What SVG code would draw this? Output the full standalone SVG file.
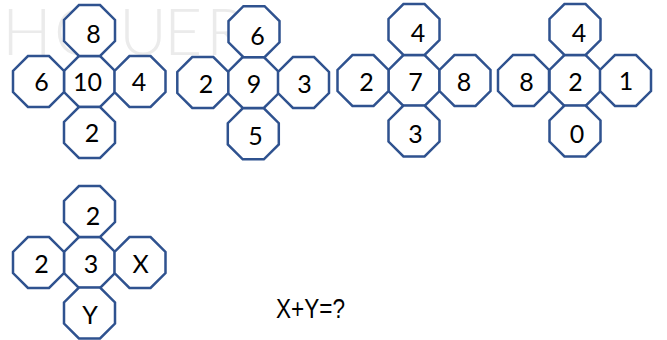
<svg xmlns="http://www.w3.org/2000/svg" xmlns:xlink="http://www.w3.org/1999/xlink" width="667" height="340" viewBox="0 0 667 340">
<style>
.oct{fill:#ffffff;stroke:#2F528F;stroke-width:2.5;stroke-linejoin:miter}
.num{font-family:Lato,"Open Sans","Liberation Sans",sans-serif;font-size:25px;fill:#000000;text-anchor:middle}
.wm{font-family:Lato,"Liberation Sans",sans-serif;font-weight:300;font-size:66px;fill:#ebebeb}
.eq{font-family:"Liberation Sans Narrow","Liberation Sans",Arial,sans-serif;font-size:28px;fill:#000000}
</style>
<defs>
<polygon id="oct" class="oct" points="-10.56,-25.5 10.56,-25.5 25.5,-10.56 25.5,10.56 10.56,25.5 -10.56,25.5 -25.5,10.56 -25.5,-10.56"/>
</defs>
<rect width="667" height="340" fill="#ffffff"/>
<g id="watermark">
<text class="wm" x="2" y="55">H</text>
<text class="wm" x="54" y="55">O</text>
<text class="wm" x="119" y="55">U</text>
<text class="wm" x="164" y="55">E</text>
<text class="wm" x="206" y="55">R</text>
</g>
<g id="connectors"></g>
<g id="g1">
<g id="g1-c"><use xlink:href="#oct" x="89.5" y="81.5"/><text class="num" x="87.5" y="91">10</text></g>
<g id="g1-t"><use xlink:href="#oct" x="89.5" y="30.5"/><text class="num" x="93.5" y="43">8</text></g>
<g id="g1-l"><use xlink:href="#oct" x="38.5" y="81.5"/><text class="num" x="41.5" y="91">6</text></g>
<g id="g1-r"><use xlink:href="#oct" x="140" y="81.5"/><text class="num" x="139" y="91">4</text></g>
<g id="g1-b"><use xlink:href="#oct" x="89.5" y="132.5"/><text class="num" x="92" y="142">2</text></g>
</g>
<g id="g2">
<g id="g2-c"><use xlink:href="#oct" x="253.3" y="82.5"/><text class="num" x="254" y="93">9</text></g>
<g id="g2-t"><use xlink:href="#oct" x="254" y="31.7"/><text class="num" x="257.5" y="45">6</text></g>
<g id="g2-l"><use xlink:href="#oct" x="202.8" y="82.5"/><text class="num" x="206" y="93">2</text></g>
<g id="g2-r"><use xlink:href="#oct" x="303.5" y="82.5"/><text class="num" x="304.5" y="93">3</text></g>
<g id="g2-b"><use xlink:href="#oct" x="253.3" y="133.8"/><text class="num" x="255.5" y="145">5</text></g>
</g>
<g id="g3">
<g id="g3-c"><use xlink:href="#oct" x="414" y="80.5"/><text class="num" x="415.5" y="91">7</text></g>
<g id="g3-t"><use xlink:href="#oct" x="414" y="29.5"/><text class="num" x="418" y="42">4</text></g>
<g id="g3-l"><use xlink:href="#oct" x="363" y="80.5"/><text class="num" x="366.5" y="91">2</text></g>
<g id="g3-r"><use xlink:href="#oct" x="465" y="80.5"/><text class="num" x="464" y="91">8</text></g>
<g id="g3-b"><use xlink:href="#oct" x="414" y="131"/><text class="num" x="415.5" y="143">3</text></g>
</g>
<g id="g4">
<g id="g4-c"><use xlink:href="#oct" x="575" y="80.5"/><text class="num" x="575.5" y="91">2</text></g>
<g id="g4-t"><use xlink:href="#oct" x="575" y="29.5"/><text class="num" x="579" y="42">4</text></g>
<g id="g4-l"><use xlink:href="#oct" x="523.5" y="80.5"/><text class="num" x="526.5" y="91">8</text></g>
<g id="g4-r"><use xlink:href="#oct" x="625.5" y="80.5"/><text class="num" x="626" y="89.5">1</text></g>
<g id="g4-b"><use xlink:href="#oct" x="575" y="131"/><text class="num" x="577" y="143">0</text></g>
</g>
<g id="g5">
<g id="g5-c"><use xlink:href="#oct" x="89.5" y="262.5"/><text class="num" x="91" y="273">3</text></g>
<g id="g5-t"><use xlink:href="#oct" x="89.5" y="211.5"/><text class="num" x="93" y="225">2</text></g>
<g id="g5-l"><use xlink:href="#oct" x="38.5" y="262.5"/><text class="num" x="41.5" y="273">2</text></g>
<g id="g5-r"><use xlink:href="#oct" x="140" y="262.5"/><text class="num" x="140.5" y="273">X</text></g>
<g id="g5-b"><use xlink:href="#oct" x="89.5" y="313"/><text class="num" x="90" y="324">Y</text></g>
</g>
<g id="question"><text class="eq" x="276" y="318" textLength="69" lengthAdjust="spacingAndGlyphs">X+Y=?</text></g>
</svg>
